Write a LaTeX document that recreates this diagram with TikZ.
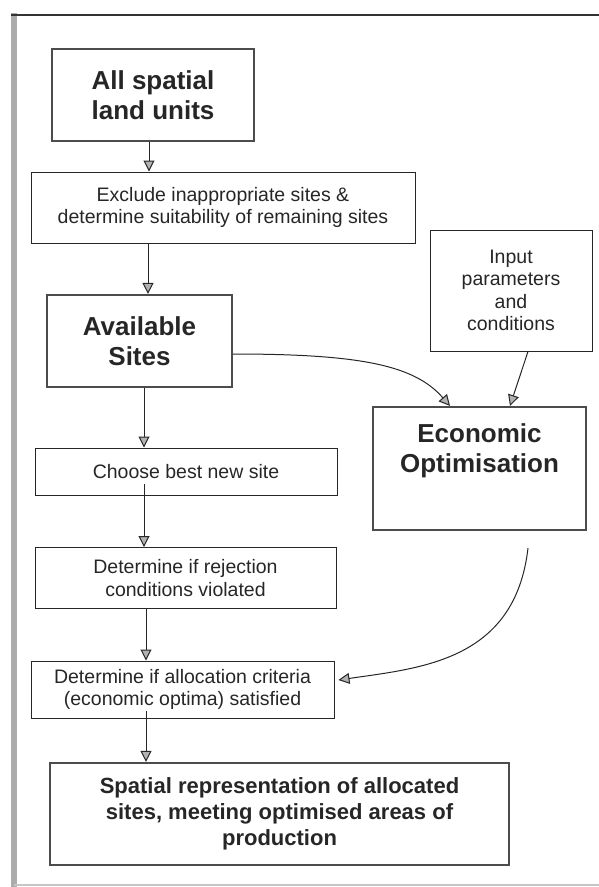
\documentclass[tikz,border=0pt]{standalone}
\usepackage{fontspec}
\setmainfont{Liberation Sans}
\usetikzlibrary{arrows.meta}

\begin{document}
\begin{tikzpicture}[x=1pt, y=-1pt,
    thinbox/.style={draw=black!85, line width=1pt, align=center, inner sep=0pt, text=black!85,
        font=\fontsize{19.5}{22.5}\selectfont},
    thickbox/.style={draw=black!70, line width=2.2pt, align=center, inner sep=0pt, text=black!85,
        font=\bfseries\fontsize{26}{30.5}\selectfont},
    flow/.style={draw=black!85, line width=1pt, -{Triangle[width=11pt, length=11pt, fill=gray!60]}}]
        \useasboundingbox (0,0) rectangle (599,887);

        % Frame
        \draw[gray!65, line width=6pt] (14,13) -- (14,887);
        \draw[black!80, line width=2.5pt] (11,15) -- (599,15);
        \draw[gray!45, line width=1.2pt] (14,885) -- (599,885);

        % Nodes
        \node[thickbox, minimum width=202pt, minimum height=92pt] (units) at (153, 95) {All spatial\\land units};
        \node[thinbox, minimum width=384pt, minimum height=71pt] (excl) at (223, 207.5) {Exclude inappropriate sites \&\\determine suitability of remaining sites};
        \node[thickbox, minimum width=185pt, minimum height=92pt] (avail) at (139.5, 341) {Available\\Sites};
        \node[thinbox, minimum width=162pt, minimum height=121pt] (input) at (511, 290.5) {Input\\parameters\\and\\conditions};
        \node[thickbox, minimum width=213pt, minimum height=123pt] (econ) at (479.5, 468.5) {Economic\\Optimisation\\[10pt]~};
        \node[thinbox, minimum width=302pt, minimum height=47pt] (choose) at (186, 471.5) {Choose best new site};
        \node[thinbox, minimum width=301pt, minimum height=61pt] (reject) at (185.5, 578) {Determine if rejection\\conditions violated};
        \node[thinbox, minimum width=303pt, minimum height=57pt] (alloc) at (182.5, 689.5) {Determine if allocation criteria\\(economic optima) satisfied};
        \node[thickbox, minimum width=459pt, minimum height=102pt, font=\bfseries\fontsize{22}{26}\selectfont] (final) at (279.5, 814) {Spatial representation of allocated\\sites, meeting optimised areas of\\production};

        % Edges
        \draw[flow] ([xshift=-4pt]units.south) -- ([xshift=-4pt]units.south |- excl.north);
        \draw[flow] ([xshift=8.5pt]avail.north |- excl.south) -- ([xshift=8.5pt]avail.north);
        \draw[flow] ([xshift=4.5pt]avail.south) -- ([xshift=4.5pt]avail.south |- choose.north);
        \draw[flow] ([xshift=-42pt, yshift=12pt]choose.south) -- ([xshift=-42pt]choose.south |- reject.north);
        \draw[flow] ([xshift=-39.5pt]reject.south) -- ([xshift=-39.5pt]reject.south |- alloc.north);
        \draw[flow] ([xshift=-36.5pt, yshift=8pt]alloc.south) -- ([xshift=-36.5pt]alloc.south |- final.north);

        % Inputs to the optimisation
        \draw[flow] ([yshift=-13pt]avail.east) .. controls +(130,0) and +(-35,-40) .. ([xshift=-29.5pt]econ.north);
        \draw[flow] ([xshift=17pt]input.south) -- ([xshift=30.5pt]econ.north);
        \draw[flow] ([xshift=48.5pt, yshift=-17pt]econ.south) .. controls +(-13,113) and +(82,-12) .. ([xshift=4pt, yshift=9.5pt]alloc.east);

    \end{tikzpicture}
\end{document}
